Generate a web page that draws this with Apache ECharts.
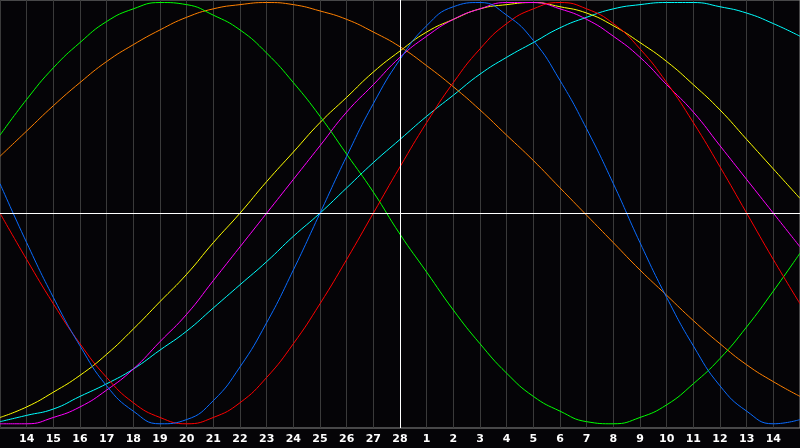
<!DOCTYPE html>
<html>
<head>
<meta charset="utf-8">
<script src="https://cdn.jsdelivr.net/npm/echarts@6/dist/echarts.min.js"></script>
<style>
  html, body { margin: 0; padding: 0; background: #050407; }
  #chart { width: 800px; height: 448px; }
</style>
</head>
<body>
<div id="chart"></div>
<script>
// day labels for ticks 0..30 (first and last tick not labelled)
const dayLabels = ['13', '14', '15', '16', '17', '18', '19', '20', '21', '22', '23', '24', '25', '26', '27', '28',
    '1', '2', '3', '4', '5', '6', '7', '8', '9', '10', '11', '12', '13', '14', '15'];
const todayIndex = 15;

// values, one per day, -100..100
const green   = [37, 54, 69, 81, 91, 97, 100, 99, 94, 87, 76, 62, 46, 28, 10, -10, -28, -46, -62, -76, -87, -94, -99, -100, -97, -91, -81, -69, -54, -37, -19];
const orange  = [27, 39, 51, 62, 72, 80, 87, 93, 97, 99, 100, 99, 96, 92, 86, 79, 70, 60, 49, 37, 25, 12, -1, -14, -27, -39, -51, -62, -72, -80, -87];
const blue    = [14, -14, -40, -63, -82, -94, -100, -98, -89, -73, -52, -27, 0, 27, 52, 73, 89, 98, 100, 94, 82, 63, 40, 14, -14, -40, -63, -82, -94, -100, -98];
const red     = [0, -22, -43, -62, -78, -90, -97, -100, -97, -90, -78, -62, -43, -22, 0, 22, 43, 62, 78, 90, 97, 100, 97, 90, 78, 62, 43, 22, 0, -22, -43];
const magenta = [-100, -100, -97, -92, -84, -74, -61, -48, -32, -16, 0, 16, 32, 48, 61, 74, 84, 92, 97, 100, 100, 97, 92, 84, 74, 61, 48, 32, 16, 0, -16];
const yellow  = [-97, -92, -85, -77, -67, -55, -42, -29, -14, 0, 15, 29, 43, 55, 67, 77, 86, 92, 97, 99, 100, 98, 95, 89, 81, 72, 61, 49, 35, 21, 7];
const cyan    = [-99, -96, -93, -87, -81, -74, -65, -56, -45, -34, -23, -11, 0, 12, 24, 35, 46, 56, 66, 74, 81, 88, 93, 97, 99, 100, 100, 98, 95, 90, 84];

const curves = [
    { data: cyan, color: '#00ffff' },
    { data: yellow, color: '#ffff00' },
    { data: magenta, color: '#ff00ff' },
    { data: orange, color: '#ff8000' },
    { data: green, color: '#00ff00' },
    { data: red, color: '#ff0000' },
    { data: blue, color: '#0a6cff' }
];

const chart = echarts.init(document.getElementById('chart'));

const series = curves.map(c => ({
    type: 'line',
    smooth: true,
    symbol: 'none',
    lineStyle: { color: c.color, width: 1 },
    data: c.data.map((v, i) => [i, v]),
    z: 3
}));

// white zero line and "today" line
series.push({
    type: 'line',
    data: [],
    markLine: {
        silent: true,
        symbol: 'none',
        label: { show: false },
        lineStyle: { color: '#ffffff', width: 1, type: 'solid' },
        data: [{ yAxis: 0 }, { xAxis: todayIndex }]
    },
    z: 2
});

chart.setOption({
    animation: false,
    backgroundColor: '#050407',
    grid: {
        left: 0, right: 0, top: 0, bottom: 20,
        show: true, borderColor: '#8c8c8c', borderWidth: 1, backgroundColor: '#050407'
    },
    xAxis: {
        type: 'value',
        min: 0, max: 30, interval: 1,
        axisLine: { show: true, lineStyle: { color: '#9a9a9a' } },
        axisTick: { show: false },
        splitLine: { show: true, lineStyle: { color: '#3a3a3a', width: 1 } },
        axisLabel: {
            color: '#ffffff', fontSize: 11, fontWeight: 'bold', fontFamily: 'DejaVu Sans',
            margin: 6, showMinLabel: false, showMaxLabel: false,
            formatter: v => dayLabels[v]
        }
    },
    yAxis: {
        type: 'value',
        min: -102, max: 101.2,
        axisLine: { show: false },
        axisTick: { show: false },
        axisLabel: { show: false },
        splitLine: { show: false }
    },
    series: series
});
</script>
</body>
</html>
